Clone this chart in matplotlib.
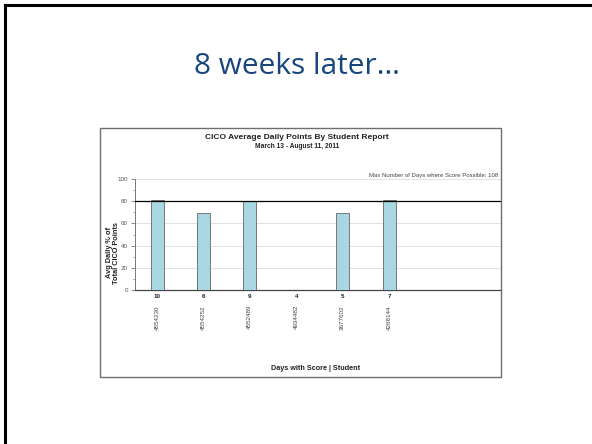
import matplotlib
matplotlib.use("Agg")
import matplotlib.pyplot as plt
from matplotlib.patches import Rectangle
from matplotlib.lines import Line2D
import matplotlib.transforms as mtransforms

# ---- data ----
students = ["4554230", "4554252", "4552489", "4934482", "3677602", "4268144"]
days_with_score = ["10", "6", "9", "4", "5", "7"]
avg_pct = [81, 69, 80, 0, 69, 81]
goal = 80
yticks = [0, 20, 40, 60, 80, 100]
slide_title = "8 weeks later…"
chart_title = "CICO Average Daily Points By Student Report"
chart_subtitle = "March 13 - August 11, 2011"
note = "Max Number of Days where Score Possible: 108"
xlabel = "Days with Score | Student"
ylabel = "Avg Daily % of\nTotal CICO Points"

W, H = 592, 444
fig = plt.figure(figsize=(W / 100, H / 100), dpi=100)
fig.patch.set_facecolor("white")

def fx(px):
    return px / W

def fy(py):
    return 1 - py / H

# slide frame (top & left edges visible)
fig.add_artist(Line2D([fx(5), 1.0], [fy(5), fy(5)], color="black", lw=2.2))
fig.add_artist(Line2D([fx(5), fx(5)], [fy(5), 0.0], color="black", lw=2.2))

# slide title
fig.text(fx(297), fy(66), slide_title, ha="center", va="center",
         fontsize=21.5, color="#17467f", family="Open Sans")

# chart image box
fig.add_artist(Rectangle((fx(100), fy(377)), fx(501) - fx(100), fy(128) - fy(377),
                         transform=fig.transFigure, fill=False,
                         edgecolor="#6e6e6e", lw=1.0))

fig.text(fx(297), fy(137), chart_title, ha="center", va="center",
         fontsize=6, fontweight="bold", family="Liberation Sans", color="#222222")
fig.text(fx(297), fy(146), chart_subtitle, ha="center", va="center",
         fontsize=4.8, fontweight="bold", family="Liberation Sans", color="#222222")

# axes
ax = fig.add_axes([fx(135), fy(290), fx(501) - fx(135), fy(179) - fy(290)])
x = list(range(len(students)))
ax.bar(x, avg_pct, width=0.28, color="#a9d6e3", edgecolor="#666666", linewidth=0.6, zorder=3)
ax.set_xlim(-0.474, 7.41)
ax.set_ylim(0, 100)
ax.set_yticks(yticks)
ax.set_yticks(range(0, 101, 10), minor=True)
ax.tick_params(axis="y", which="major", labelsize=4.5, labelcolor="#555555", length=3,
               color="#777777", width=0.6, pad=2)
ax.tick_params(axis="y", which="minor", length=1.8, color="#777777", width=0.5)
for lab in ax.get_yticklabels():
    lab.set_family("Liberation Sans")
ax.set_xticks([])
ax.grid(axis="y", color="#dddddd", lw=0.6, zorder=0)
ax.axhline(goal, color="black", lw=0.9, zorder=4)
for s in ["top", "right"]:
    ax.spines[s].set_visible(False)
ax.spines["left"].set_color("#777777")
ax.spines["left"].set_linewidth(0.7)
ax.spines["bottom"].set_color("#444444")
ax.spines["bottom"].set_linewidth(0.9)

trans = mtransforms.blended_transform_factory(ax.transData, fig.transFigure)
for i, (d, s) in enumerate(zip(days_with_score, students)):
    ax.text(i, fy(296), d, transform=trans, ha="center", va="center",
            fontsize=4.5, fontweight="bold", family="Liberation Sans", color="#222222")
    ax.text(i, fy(305), s, transform=trans, ha="center", va="top", rotation=90,
            fontsize=4.5, family="Liberation Sans", color="#444444")

fig.text(fx(498), fy(176), note, ha="right", va="center", fontsize=4.3,
         family="Liberation Sans", color="#444444")
fig.text(fx(316), fy(368), xlabel, ha="center", va="center", fontsize=5.2,
         fontweight="bold", family="Liberation Sans", color="#222222")
fig.text(fx(113), fy(253), ylabel, ha="center", va="center", rotation=90,
         fontsize=5.3, fontweight="bold", family="Liberation Sans", color="#222222",
         linespacing=1.0)

fig.savefig("out.png", dpi=100)
